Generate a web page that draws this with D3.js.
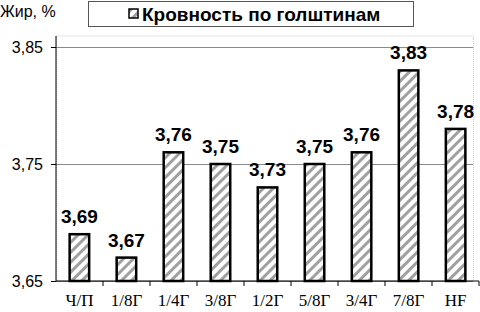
<!DOCTYPE html>
<html>
<head>
<meta charset="utf-8">
<script src="https://cdn.jsdelivr.net/npm/d3@7"></script>
<style>
  body { margin: 0; background: #fff; }
  svg { display: block; }
</style>
</head>
<body>
<div id="chart"></div>
<script>
//DATA
let categories = ['Ч/П', '1/8Г', '1/4Г', '3/8Г', '1/2Г', '5/8Г', '3/4Г', '7/8Г', 'HF'];
let values = [3.69, 3.67, 3.76, 3.75, 3.73, 3.75, 3.76, 3.83, 3.78];
let yTicks = [3.65, 3.75, 3.85];
let seriesName = 'Кровность по голштинам';
let yTitle = 'Жир, %';

let fmt = function(v) { return d3.format('.2f')(v).replace('.', ','); };

//LAYOUT
let W = 480, H = 312;
let margin = {top: 47, right: 1, bottom: 31, left: 56};
let width = W - margin.left - margin.right,
    height = H - margin.top - margin.bottom;

let svg = d3.select('#chart').append('svg')
    .attr('width', W)
    .attr('height', H);

//Hatch pattern
let defs = svg.append('defs');
let pat = defs.append('pattern')
    .attr('id', 'hatch')
    .attr('patternUnits', 'userSpaceOnUse')
    .attr('width', 7)
    .attr('height', 7)
    .attr('patternTransform', 'rotate(45)');
pat.append('rect').attr('width', 7).attr('height', 7).attr('fill', '#fff');
pat.append('rect').attr('x', 0).attr('width', 3).attr('height', 7).attr('fill', '#a0a0a0');

let chart = svg.append('g')
    .attr('transform', 'translate(' + margin.left + ',' + margin.top + ')');

//Scales
let x = d3.scaleBand()
    .domain(categories)
    .range([0, width])
    .paddingInner(0.585)
    .paddingOuter(0.29);

let xGroup = d3.scaleBand()
    .domain(categories)
    .range([0, width]);

let y = d3.scaleLinear()
    .domain([3.65, 3.85])
    .range([height, 0]);

let frameTop = y(3.85) - 11;

//Plot frame (dotted)
chart.append('rect')
    .attr('x', 0.5)
    .attr('y', frameTop)
    .attr('width', width - 6)
    .attr('height', height - frameTop)
    .attr('fill', 'none')
    .attr('stroke', '#c8c8c8')
    .attr('stroke-dasharray', '1,1');

//Y grid + axis
chart.append('g')
    .attr('class', 'y_axis')
    .call(d3.axisLeft(y).tickValues(yTicks).tickFormat(fmt).tickSize(5).tickPadding(8))
    .call(function(g) { g.select('.domain').remove(); })
    .call(function(g) {
        g.selectAll('.tick line').attr('stroke', '#000');
        g.selectAll('.tick text')
            .attr('font-family', 'Arial, "Liberation Sans", sans-serif')
            .attr('font-size', 16)
            .attr('fill', '#000');
        g.selectAll('.tick').append('line')
            .attr('x1', 0)
            .attr('x2', width - 6)
            .attr('stroke', '#8a8a8a');
    });

chart.append('line')
    .attr('x1', 0).attr('x2', 0)
    .attr('y1', frameTop).attr('y2', height)
    .attr('stroke', '#000');

//X axis
chart.append('line')
    .attr('x1', 0).attr('x2', width)
    .attr('y1', height).attr('y2', height)
    .attr('stroke', '#000');

chart.selectAll('.xtick')
    .data(categories)
    .enter()
    .append('line')
    .attr('class', 'xtick')
    .attr('x1', function(d) { return xGroup(d) + xGroup.step(); })
    .attr('x2', function(d) { return xGroup(d) + xGroup.step(); })
    .attr('y1', height)
    .attr('y2', height + 5)
    .attr('stroke', '#000');

chart.selectAll('.xlabel')
    .data(categories)
    .enter()
    .append('text')
    .attr('class', 'xlabel')
    .attr('x', function(d) { return xGroup(d) + xGroup.bandwidth() / 2; })
    .attr('y', height + 25)
    .attr('text-anchor', 'middle')
    .attr('font-family', '"Liberation Serif", "Times New Roman", serif')
    .attr('font-size', 17)
    .text(function(d) { return d; });

//Bars
chart.selectAll('.bar')
    .data(values)
    .enter()
    .append('rect')
    .attr('class', 'bar')
    .attr('x', function(d, i) { return x(categories[i]); })
    .attr('y', function(d) { return y(d); })
    .attr('width', x.bandwidth())
    .attr('height', function(d) { return height - y(d); })
    .attr('fill', 'url(#hatch)')
    .attr('stroke', '#000')
    .attr('stroke-width', 2.5);

//Value labels
chart.selectAll('.vlabel')
    .data(values)
    .enter()
    .append('text')
    .attr('class', 'vlabel')
    .attr('x', function(d, i) { return x(categories[i]) + x.bandwidth() / 2; })
    .attr('y', function(d) { return y(d) - 11; })
    .attr('text-anchor', 'middle')
    .attr('font-family', 'Arial, "Liberation Sans", sans-serif')
    .attr('font-weight', 'bold')
    .attr('font-size', 19)
    .text(fmt);

//Y title
svg.append('text')
    .attr('x', 0)
    .attr('y', 17)
    .attr('font-family', 'Arial, "Liberation Sans", sans-serif')
    .attr('font-size', 16)
    .text(yTitle);

//Legend
let legend = svg.append('g').attr('transform', 'translate(88,1)');
legend.append('rect')
    .attr('x', 0.5).attr('y', 0.5)
    .attr('width', 325).attr('height', 25)
    .attr('fill', '#fff')
    .attr('stroke', '#555');
legend.append('rect')
    .attr('x', 41).attr('y', 8)
    .attr('width', 9).attr('height', 9)
    .attr('fill', 'url(#hatch)')
    .attr('stroke', '#000')
    .attr('stroke-width', 1.5);
legend.append('text')
    .attr('x', 54)
    .attr('y', 20)
    .attr('font-family', 'Arial, "Liberation Sans", sans-serif')
    .attr('font-weight', 'bold')
    .attr('font-size', 19)
    .text(seriesName);
</script>
</body>
</html>
